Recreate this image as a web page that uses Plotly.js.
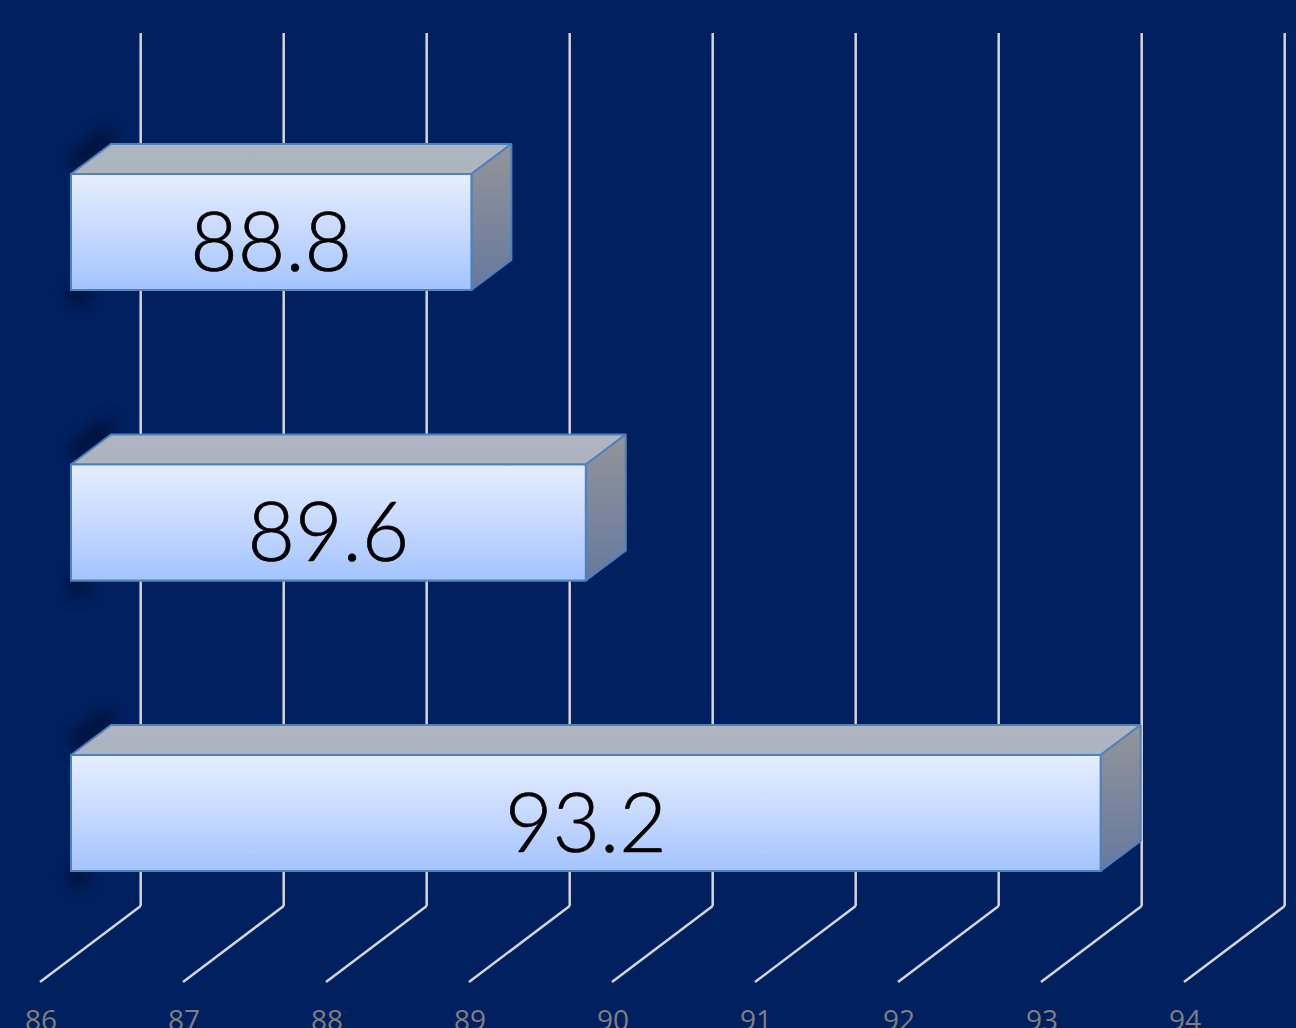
<!DOCTYPE html>
<html><head><meta charset="utf-8">
<script src="https://cdn.plot.ly/plotly-3.0.1.min.js"></script>
<style>html,body{margin:0;padding:0;background:#002060;overflow:hidden}#c{width:1296px;height:1028px}
.textpoint text{stroke:#000;stroke-width:.7px}</style>
</head><body><div id="c"></div>
<script>
const values = [93.2, 89.6, 88.8];
const rows = [0, 1, 2];
const ticks = [86, 87, 88, 89, 90, 91, 92, 93, 94];

const W = 1296, H = 1028, plotBottom = 1001;
const pxPerUnit = 143, rowPx = 290.5, row0Px = 813, base = 86, barFrontPx = 71;
const xRange = [base - barFrontPx / pxPerUnit, base + (W - barFrontPx) / pxPerUnit];
const yAt = p => (row0Px - p) / rowPx;
const dx = 40 / pxPerUnit, dy = 30 / rowPx, halfBar = 58 / rowPx;
const wallDx = 69.7 / pxPerUnit, floorDx = -31 / pxPerUnit;
const wallTop = yAt(33), wallBottom = yAt(906), floorFront = yAt(982);
const EDGE = '#4f81bd', GRID = '#d4d5d9', SHADOW = '#000a24';

const shapes = [];
// soft shadow behind each box's left side (blurred after the plot is drawn)
rows.forEach(r => {
  const px = p => p / pxPerUnit, py = p => p / rowPx;
  shapes.push({type:'line',layer:'below',xref:'x',yref:'y',
    x0:base+px(2), x1:base+dx, y0:r+halfBar+py(10), y1:r+halfBar+dy+py(10),
    line:{color:SHADOW,width:16},opacity:.72});
  shapes.push({type:'line',layer:'below',xref:'x',yref:'y',
    x0:base+px(8), x1:base+px(8), y0:r-halfBar+py(6), y1:r-halfBar-py(14),
    line:{color:SHADOW,width:18},opacity:.72});
});
const shadowCount = shapes.length;
ticks.forEach(t => {
  shapes.push({type:'line',layer:'below',xref:'x',yref:'y',x0:t+wallDx,x1:t+wallDx,y0:wallTop,y1:wallBottom,line:{color:GRID,width:2.5}});
  shapes.push({type:'line',layer:'below',xref:'x',yref:'y',x0:t+wallDx,x1:t+floorDx,y0:wallBottom,y1:floorFront,line:{color:GRID,width:2.5}});
});

const traces = [];
traces.push({type:'bar',orientation:'h',x:values.map(v=>v-base),base:values.map(()=>base),y:rows,width:2*halfBar,
  marker:{color:'#c6daff',line:{color:EDGE,width:2}},hoverinfo:'skip',showlegend:false});

function face(xs, ys, scale){
  return {type:'scatter',mode:'lines',x:xs,y:ys,fill:'toself',
    fillgradient:{type:'vertical',colorscale:scale},
    line:{color:EDGE,width:2},hoverinfo:'skip',showlegend:false};
}
values.forEach((v,i) => {
  const r = rows[i], t = r+halfBar, b = r-halfBar;
  traces.push(face([base,v,v+dx,base+dx,base],[t,t,t+dy,t+dy,t],[[0,'#adb3bf'],[1,'#aeb4c0']]));
  traces.push(face([v,v+dx,v+dx,v,v],[t,t+dy,b+dy,b,t],[[0,'#66799f'],[1,'#939598']]));
  traces.push(face([base,v,v,base,base],[t,t,b,b,t],[[0,'#a3c4ff'],[0.5,'#c6d9ff'],[1,'#e5eeff']]));
});
traces.push({type:'scatter',mode:'text',x:values.map(v=>(v+base)/2),y:rows.map(r=>r-18/rowPx),
  text:values.map(v=>v.toFixed(1)),textposition:'middle center',
  textfont:{family:'Lato, "Open Sans", sans-serif',size:82,color:'#000000',weight:300},
  hoverinfo:'skip',showlegend:false});
traces.push({type:'scatter',mode:'markers',x:ticks,y:ticks.map(()=>0),xaxis:'x2',marker:{opacity:0,size:1},hoverinfo:'skip',showlegend:false});

const layout = {
  width:W,height:H,paper_bgcolor:'#002060',plot_bgcolor:'#002060',showlegend:false,
  margin:{l:0,r:0,t:0,b:H-plotBottom,pad:0},
  xaxis:{range:xRange,showgrid:false,zeroline:false,showticklabels:false,ticks:'',showline:false,fixedrange:true},
  xaxis2:{overlaying:'x',anchor:'y',side:'bottom',range:[base-41/pxPerUnit,base+(W-41)/pxPerUnit],
    tickmode:'array',tickvals:ticks,ticktext:ticks.map(String),showgrid:false,zeroline:false,showline:false,
    ticks:'',tickfont:{family:'"Open Sans", sans-serif',size:28,color:'#7f7f7f'},fixedrange:true},
  yaxis:{range:[yAt(plotBottom),yAt(0)],showgrid:false,zeroline:false,showticklabels:false,ticks:'',showline:false,fixedrange:true},
  shapes
};
Plotly.newPlot('c',traces,layout,{displayModeBar:false,staticPlot:true}).then(() => {
  document.querySelectorAll('.shapelayer path').forEach(p => {
    if (+p.getAttribute('data-index') < shadowCount) { p.style.filter = 'blur(8px)'; p.removeAttribute('clip-path'); }
  });
});
</script></body></html>
